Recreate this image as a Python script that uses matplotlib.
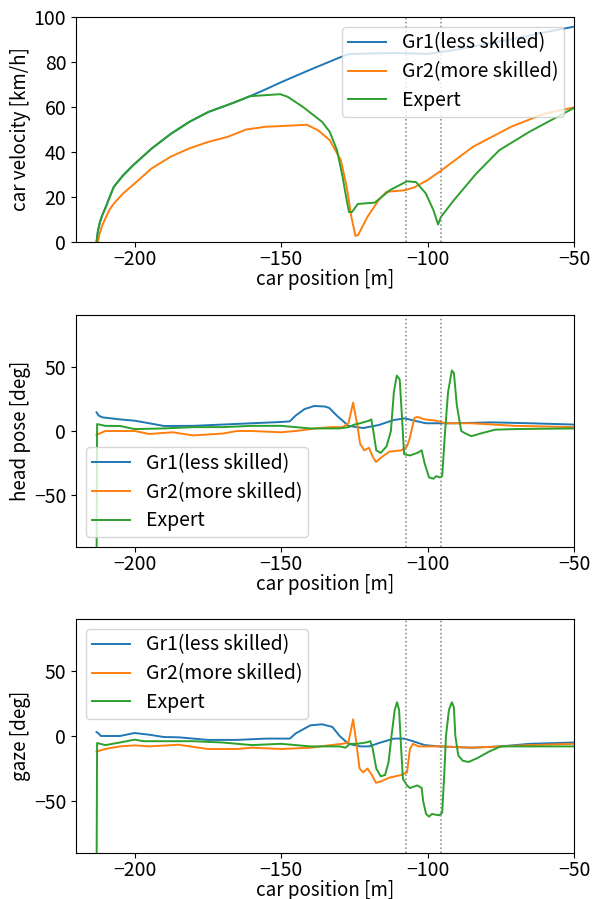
import numpy as np
import matplotlib
matplotlib.use("Agg")
import matplotlib.pyplot as plt

plt.rcParams['font.family'] = ['Noto Sans CJK JP', 'DejaVu Sans']
plt.rcParams['axes.unicode_minus'] = True

labels = ["Gr1(less skilled)", "Gr2(more skilled)", "Expert"]
vlines = [-107.3, -95.4]

# ---- car velocity [km/h] ----
vel_gr1_x = [-213, -212.5, -211.8, -211, -210, -208.5, -207.1, -204, -200.6, -194.2, -187.7,
             -181.3, -174.8, -167, -160.6, -155, -150, -145, -140, -135, -130, -127, -120,
             -110, -100, -95, -90, -80, -70, -60, -50]
vel_gr1_y = [0, 5, 9, 12, 15, 20, 24.5, 29.5, 34, 41.5, 48,
             53.4, 57.8, 61.5, 64.8, 68, 71, 73.8, 76.6, 79.3, 82, 83.5, 83.8,
             84, 83.6, 84.5, 85.5, 88, 90.5, 93.2, 95.7]

vel_gr2_x = [-212.5, -212, -211, -209.7, -208.5, -207, -204, -200.6, -194.2, -187.7, -181.3,
             -174.8, -168.3, -161.9, -155.4, -149, -141.2, -137.4, -133.4, -129.6, -127.6,
             -126, -124.6, -123.7, -120.5, -116.7, -114, -107.7, -104.5, -100, -95.4, -84.5,
             -71.5, -60, -50]
vel_gr2_y = [0, 3.5, 7.5, 11.2, 14.5, 17.2, 21.5, 25.3, 32.7, 37.9, 41.6,
             44.5, 46.7, 50, 51.2, 51.6, 52.1, 49.7, 45.3, 36.4, 24.6,
             11.2, 2.7, 3.1, 11.2, 18.6, 22.3, 23, 24.3, 27.5, 31.7, 42.3,
             51.2, 57.1, 59.8]

vel_exp_x = [-213, -212.5, -211.8, -211, -210, -208.5, -207.1, -204, -200.6, -194.2, -187.7,
             -181.3, -174.8, -167, -160.6, -150.3, -147.7, -142.5, -136, -133.4, -130.9,
             -129, -127.6, -126.8, -125.8, -123.8, -118, -112.9, -107, -103.9, -100.6, -98,
             -96.4, -95.4, -91, -83.3, -75.5, -65.2, -50]
vel_exp_y = [0, 5, 9, 12, 15, 20, 24.5, 29.5, 34, 41.5, 48,
             53.4, 57.8, 61.5, 64.8, 65.7, 64.5, 60, 53.4, 49, 40.8,
             29, 18.6, 13.3, 13.3, 16.9, 17.5, 23, 27, 26.6, 21.6, 14.2,
             7.8, 11.2, 18.6, 30.5, 40.8, 49, 59.6]

# ---- head pose [deg] ----
head_gr1_x = [-213, -212.3, -211, -205, -200, -195, -190, -180, -170, -160, -150, -147,
              -145, -142, -138.7, -135, -133.5, -131, -127, -122, -116.7, -111.6, -107.7,
              -104.5, -100.6, -91, -78, -65, -50]
head_gr1_y = [14.5, 12, 10.6, 9, 8, 6, 3.9, 4, 5, 6, 7, 7.5,
              12, 17, 19.4, 19, 17.8, 12, 4, 2.3, 4.6, 8.5, 9.8,
              8, 6, 6, 6.7, 6, 5]

head_gr2_x = [-213, -210, -200, -195, -187, -180, -170, -165, -160, -150, -145, -138,
              -133, -129, -127, -125.4, -124, -123, -121.6, -120, -118.7, -117.6, -115.5,
              -113, -109, -107, -106, -104.5, -103.5, -101, -97, -94, -85, -70, -50]
head_gr2_y = [-3, 0, 0, -2.3, -1, -3.4, -2, 0, 0, -1, 0, 2,
              3, 3, 6, 22, 5, -10, -15, -13, -20, -24, -20,
              -16, -15, -12, -5, 10, 11, 9, 8, 6, 6, 4, 3]

head_exp_x = [-213, -212.8, -210, -205, -200, -190, -180, -170, -160, -150, -145, -140,
              -130, -127, -125, -123, -120, -119.2, -118.5, -117.5, -116, -114, -112.5,
              -111.5, -110.5, -109.5, -108.7, -108, -106, -103.5, -102, -101, -99.5, -98,
              -97, -95.8, -95, -94, -93, -91.7, -91, -90, -88.5, -87, -85, -82, -77, -70, -50]
head_exp_y = [-120, 5.4, 4, 3.9, 1.5, 2, 3, 3, 4, 4, 3, 2,
              2, 3, 5, 6, 8, 9, 0, -15, -17, -12, 0,
              30, 43, 40, 10, -18, -19, -17, -15, -25, -36, -37,
              -35, -36, -35, 0, 30, 47, 45, 20, 0, -2, -4, -2, 1, 1.5, 2]

# ---- gaze [deg] ----
gaze_gr1_x = [-213, -212.3, -211.5, -205, -200, -195, -190, -185, -175, -165, -155, -147,
              -145, -140, -136, -132.5, -130, -127, -123, -120, -116, -111.5, -108,
              -105, -101, -96, -85, -75, -65, -50]
gaze_gr1_y = [3, 2, 0, 0, 2.3, 1, -0.8, -1, -3, -3, -2, -2,
              2, 8.2, 9, 7, 0, -6, -8, -8, -5, -2, -2,
              -4, -7, -8, -9, -8, -6, -5]

gaze_gr2_x = [-213, -210, -205, -200, -195, -185, -175, -165, -160, -150, -140, -133,
              -129, -127, -125.4, -124.3, -123.2, -122, -120.5, -119, -117.6, -116, -113,
              -109, -107, -106, -105, -103, -95, -85, -75, -65, -50]
gaze_gr2_y = [-12, -10, -8, -7.2, -8, -6.7, -10, -10, -9, -10, -9, -7,
              -6, -5, 12.8, -5, -25, -28, -25, -30, -36, -35, -32,
              -30, -28, -10, -6, -8, -8, -9, -8, -7, -6]

gaze_exp_x = [-213, -212.8, -210, -205, -200, -197, -190, -180, -170, -160, -150, -145,
              -140, -130, -128, -126.5, -124, -121, -119.5, -118.7, -117.5, -116, -114.5,
              -113.3, -112.3, -111.2, -110.4, -109.7, -109, -108.4, -107, -106, -103.5,
              -102, -101.5, -100.5, -99.5, -98.5, -96, -95, -94.3, -93.7, -92.7, -91.7,
              -91, -90.5, -89.5, -88, -86, -83, -79, -75, -60, -50]
gaze_exp_y = [-120, -5.4, -7, -5, -2.8, -4, -4, -4, -5, -7, -6, -7,
              -8, -8, -9, -6, -6, -5, -4, -10, -25, -31, -30,
              -20, 0, 20, 26, 20, -10, -33, -38, -40, -38,
              -40, -50, -60, -62, -60, -61, -59, -30, 0, 20, 26,
              22, 0, -15, -19, -20, -17, -12, -8, -8, -8]

colors = ["#1f77b4", "#ff7f0e", "#2ca02c"]

fig = plt.figure(figsize=(5.94, 8.99), dpi=100)
W, H = 594, 899
def axes_px(top, bottom, left=76, right=574):
    return fig.add_axes([left / W, 1 - bottom / H, (right - left) / W, (bottom - top) / H])

ax1 = axes_px(17, 242)
ax2 = axes_px(315, 547)
ax3 = axes_px(619, 853)

panels = [
    (ax1, [(vel_gr1_x, vel_gr1_y), (vel_gr2_x, vel_gr2_y), (vel_exp_x, vel_exp_y)],
     "car velocity [km/h]", (0, 100), "upper right"),
    (ax2, [(head_gr1_x, head_gr1_y), (head_gr2_x, head_gr2_y), (head_exp_x, head_exp_y)],
     "head pose [deg]", (-90, 90), "lower left"),
    (ax3, [(gaze_gr1_x, gaze_gr1_y), (gaze_gr2_x, gaze_gr2_y), (gaze_exp_x, gaze_exp_y)],
     "gaze [deg]", (-90, 90), "upper left"),
]

for ax, series, ylabel, ylim, loc in panels:
    for (x, y), c, lab in zip(series, colors, labels):
        ax.plot(x, y, color=c, lw=1.4, label=lab)
    for xv in vlines:
        ax.axvline(xv, color="gray", ls=":", lw=1.1)
    ax.set_xlim(-220, -50)
    ax.set_ylim(*ylim)
    ax.set_xticks([-200, -150, -100, -50])
    if ylim[0] == 0:
        ax.set_yticks([0, 20, 40, 60, 80, 100])
    else:
        ax.set_yticks([-50, 0, 50])
    ax.tick_params(labelsize=14)
    ax.tick_params(axis="x", pad=1.5)
    ax.set_xlabel("car position [m]", fontsize=13.5, labelpad=-1)
    ax.set_ylabel(ylabel, fontsize=13.5, labelpad=2)
    ax.legend(loc=loc, fontsize=14, labelspacing=0.4, borderpad=0.3)

fig.savefig("out.png", dpi=100)
